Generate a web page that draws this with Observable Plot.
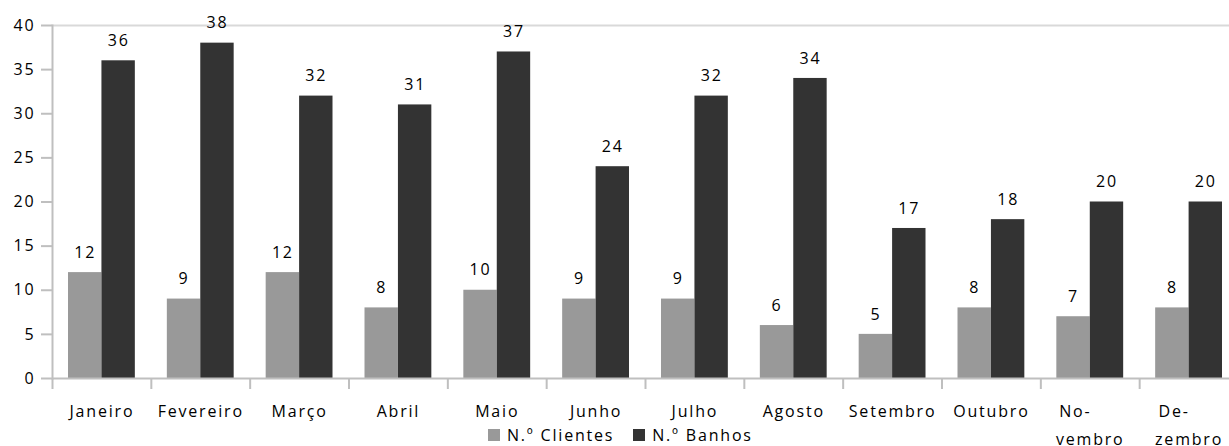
<!DOCTYPE html>
<html>
<head>
<meta charset="utf-8">
<script src="https://cdn.jsdelivr.net/npm/d3@7"></script>
<script src="https://cdn.jsdelivr.net/npm/@observablehq/plot@0.6"></script>
<style>
  html, body { margin: 0; padding: 0; background: #fff; overflow: hidden; }
  #wrap { position: relative; width: 1229px; height: 446px; }
  #legend { position: absolute; left: 488px; top: 424px; display: flex; align-items: center;
    font-family: "Open Sans", sans-serif; font-size: 16px; letter-spacing: 1.8px; color: #000; white-space: nowrap; }
  #legend .sw { display: inline-block; width: 12px; height: 12px; margin-right: 7px; }
  #legend .item { display: flex; align-items: center; margin-right: 19px; }
</style>
</head>
<body>
<div id="wrap"><div id="chart"></div><div id="legend"></div></div>
<script>
const months = ["Janeiro","Fevereiro","Março","Abril","Maio","Junho","Julho","Agosto","Setembro","Outubro","Novembro","Dezembro"];
const monthLabels = ["Janeiro","Fevereiro","Março","Abril","Maio","Junho","Julho","Agosto","Setembro","Outubro","No-\nvembro","De-\nzembro"];
const clientes = [12, 9, 12, 8, 10, 9, 9, 6, 5, 8, 7, 8];
const banhos = [36, 38, 32, 31, 37, 24, 32, 34, 17, 18, 20, 20];
const series = ["N.º Clientes", "N.º Banhos"];
const colors = ["#999999", "#333333"];
const yTicks = [0, 5, 10, 15, 20, 25, 30, 35, 40];

const data = months.map((m, i) => ({month: m, clientes: clientes[i], banhos: banhos[i]}));
const labelOf = new Map(months.map((m, i) => [m, monthLabels[i]]));

const W = 1229, H = 446;
const x0 = 52, x1 = 1238;
const step = (x1 - x0) / months.length;
const barW = 33.4, outer = 16;
const inner = step - outer - barW;

function fmt(m) {
  const s = labelOf.get(m);
  if (!s.includes("\n")) return s;
  const [a, b] = s.split("\n");
  return a + "\u00a0".repeat(Math.max(0, Math.round((b.length - a.length) * 1.8))) + "\n" + b;
}

const plot = Plot.plot({
  width: W, height: H,
  marginLeft: x0, marginRight: 0, marginTop: 25, marginBottom: 68,
  style: {fontFamily: "'Open Sans', sans-serif", fontSize: "16px", letterSpacing: "1.8px", color: "#000", background: "#fff"},
  x: {domain: months, range: [x0, x1], padding: 0, round: false, axis: null},
  y: {domain: [0, 40], axis: null},
  color: {domain: series, range: colors},
  marks: [
    Plot.ruleY([40], {stroke: "#d9d9d9", strokeWidth: 2}),
    Plot.barY(data, {x: "month", y: "clientes", fill: () => series[0], insetLeft: outer, insetRight: inner}),
    Plot.barY(data, {x: "month", y: "banhos", fill: () => series[1], insetLeft: inner, insetRight: outer}),
    Plot.text(data, {x: "month", y: "clientes", text: "clientes", dx: -(step / 2 - outer - barW / 2), dy: -20, fill: "#000"}),
    Plot.text(data, {x: "month", y: "banhos", text: "banhos", dx: (step / 2 - outer - barW / 2), dy: -20, fill: "#000"}),
    Plot.frame({anchor: "left", stroke: "#bfbfbf", strokeWidth: 2}),
    Plot.ruleY([0], {stroke: "#bfbfbf", strokeWidth: 2}),
    Plot.axisY({ticks: yTicks, tickSize: 11, tickPadding: 6, stroke: "#bfbfbf", strokeWidth: 2, fill: "#000", label: null}),
    Plot.axisX({tickSize: 11, tickFormat: () => "", dx: -step / 2, stroke: "#bfbfbf", strokeWidth: 2, label: null}),
    Plot.axisX({tickSize: 0, tickPadding: 19, tickFormat: fmt, lineHeight: 1.75, fill: "#000", label: null})
  ]
});
document.getElementById("chart").appendChild(plot);

const leg = document.getElementById("legend");
series.forEach((s, i) => {
  const it = document.createElement("span");
  it.className = "item";
  const sw = document.createElement("span");
  sw.className = "sw";
  sw.style.background = colors[i];
  it.appendChild(sw);
  it.appendChild(document.createTextNode(s));
  leg.appendChild(it);
});
</script>
</body>
</html>
